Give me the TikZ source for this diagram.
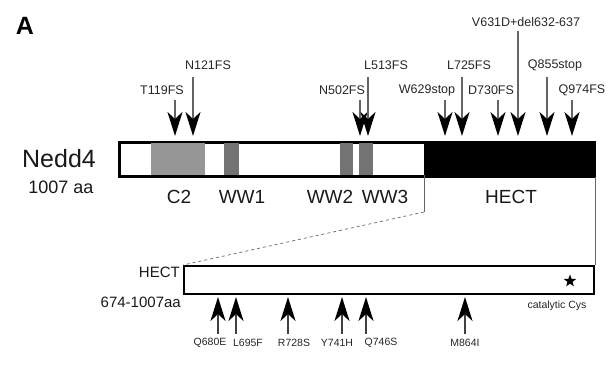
\documentclass[tikz,border=0pt]{standalone}
\usepackage{fontspec}
\setmainfont{Liberation Sans}
\usetikzlibrary{arrows.meta,shapes.geometric}
\definecolor{c2gray}{RGB}{150,150,150}
\definecolor{wwgray}{RGB}{115,115,115}
\definecolor{shaftgray}{RGB}{100,100,100}

\begin{document}
\begin{tikzpicture}[x=1pt,y=-1pt,
      mutlabel/.style={font=\fontsize{12.5}{13}\selectfont,text=black!85,inner sep=0pt},
      sitelabel/.style={font=\fontsize{10.5}{11}\selectfont,text=black!85,inner sep=0pt},
      domlabel/.style={font=\fontsize{19}{20}\selectfont,text=black!90,inner sep=0pt},
      hit/.style={draw=shaftgray,line width=2pt,-{Stealth[length=24pt,width=15pt,inset=7pt,black]}},
      hitup/.style={draw=black!75,line width=2pt,-{Stealth[length=24pt,width=15pt,inset=7pt,black]}},
      bar/.style={draw=black,line width=2.2pt,fill=white,inner sep=0pt,anchor=north west},
      zoomline/.style={draw=black!60,line width=0.7pt}
    ]
    \useasboundingbox (0,0) rectangle (616,387);

    \node[font=\fontsize{25}{25}\selectfont\bfseries,inner sep=0pt] (panel) at (25,26) {A};

    % full-length protein
    \node[font=\fontsize{25}{26}\selectfont,text=black!90,inner sep=0pt] (name) at (59,159) {Nedd4};
    \node[font=\fontsize{18}{19}\selectfont,text=black!90,inner sep=0pt] (len) at (61,187) {1007 aa};

    \node[bar,minimum width=474pt,minimum height=33pt] (nedd) at (119,142) {};
    \fill[c2gray] (151,142) rectangle (205,175);
    \fill[wwgray] (224,142) rectangle (239,175);
    \fill[wwgray] (340,142) rectangle (353,175);
    \fill[wwgray] (359,142) rectangle (373,175);
    \fill[black] (424,142) rectangle (593,175);
    \draw[line width=2.2pt] (nedd.north west) rectangle (nedd.south east);

    \node[domlabel] (c2) at (179,197) {C2};
    \node[domlabel] (ww1) at (242,197) {WW1};
    \node[domlabel] (ww2) at (330,197) {WW2};
    \node[domlabel] (ww3) at (385,197) {WW3};
    \node[domlabel] (hectlab) at (511,197) {HECT};

    % mutations above the protein
    \node[mutlabel] (t119) at (162,90) {T119FS};
    \node[mutlabel] (n121) at (208,65) {N121FS};
    \node[mutlabel] (n502) at (342,90) {N502FS};
    \node[mutlabel] (l513) at (386,65) {L513FS};
    \node[mutlabel] (w629) at (427,90) {W629stop};
    \node[mutlabel] (l725) at (469,65) {L725FS};
    \node[mutlabel] (d730) at (491,90) {D730FS};
    \node[mutlabel] (y631) at (526,22) {V631D+del632-637};
    \node[mutlabel] (q855) at (555,65) {Q855stop};
    \node[mutlabel] (q974) at (582,90) {Q974FS};

    \coordinate (t119s) at (175,100);  \coordinate (t119e) at (175,136);
    \coordinate (n121s) at (193,77);   \coordinate (n121e) at (193,136);
    \coordinate (n502s) at (360,100);  \coordinate (n502e) at (360,136);
    \coordinate (l513s) at (368,77);   \coordinate (l513e) at (368,136);
    \coordinate (w629s) at (445,100);  \coordinate (w629e) at (445,136);
    \coordinate (l725s) at (462,77);   \coordinate (l725e) at (462,136);
    \coordinate (d730s) at (498,100);  \coordinate (d730e) at (498,136);
    \coordinate (y631s) at (518,31);   \coordinate (y631e) at (518,136);
    \coordinate (q855s) at (547,77);   \coordinate (q855e) at (547,136);
    \coordinate (q974s) at (572,100);  \coordinate (q974e) at (572,136);

    \draw[hit] (t119s) -- (t119e);
    \draw[hit] (n121s) -- (n121e);
    \draw[hit] (n502s) -- (n502e);
    \draw[hit] (l513s) -- (l513e);
    \draw[hit] (w629s) -- (w629e);
    \draw[hit] (l725s) -- (l725e);
    \draw[hit] (d730s) -- (d730e);
    \draw[hit] (y631s) -- (y631e);
    \draw[hit] (q855s) -- (q855e);
    \draw[hit] (q974s) -- (q974e);

    % enlarged HECT domain
    \node[bar,minimum width=410pt,minimum height=28pt] (hect) at (183,265) {};
    \node[font=\fontsize{15}{16}\selectfont,text=black!90,inner sep=0pt,anchor=east] (hectname) at (180,272) {HECT};
    \node[font=\fontsize{15}{16}\selectfont,text=black!90,inner sep=0pt,anchor=east] (hectlen) at (181,302) {674-1007aa};
    \node[star,star points=5,star point ratio=2.4,fill=black,inner sep=0pt,minimum size=13pt] (cys) at (570,281) {};
    \node[sitelabel] (cyslab) at (557,306) {catalytic Cys};

    \coordinate (hectbeg) at (424,175);
    \coordinate (hectbend) at (424,212);
    \draw[zoomline] (hectbeg) -- (hectbend);
    \draw[zoomline,dashed] (hectbend) -- (hect.north west);
    \draw[zoomline] (nedd.south east) -- (hect.north east);

    % mutations below the HECT domain
    \node[sitelabel] (q680) at (210,343) {Q680E};
    \node[sitelabel] (l695) at (248,343) {L695F};
    \node[sitelabel] (r728) at (294,343) {R728S};
    \node[sitelabel] (y741) at (337,343) {Y741H};
    \node[sitelabel] (q746) at (381,343) {Q746S};
    \node[sitelabel] (m864) at (465,343) {M864I};

    \coordinate (q680s) at (218,334);  \coordinate (q680e) at (218,297);
    \coordinate (l695s) at (236,334);  \coordinate (l695e) at (236,297);
    \coordinate (r728s) at (288,334);  \coordinate (r728e) at (288,297);
    \coordinate (y741s) at (342,334);  \coordinate (y741e) at (342,297);
    \coordinate (q746s) at (366,334);  \coordinate (q746e) at (366,297);
    \coordinate (m864s) at (465,334);  \coordinate (m864e) at (465,297);

    \draw[hitup] (q680s) -- (q680e);
    \draw[hitup] (l695s) -- (l695e);
    \draw[hitup] (r728s) -- (r728e);
    \draw[hitup] (y741s) -- (y741e);
    \draw[hitup] (q746s) -- (q746e);
    \draw[hitup] (m864s) -- (m864e);
  \end{tikzpicture}
\end{document}
